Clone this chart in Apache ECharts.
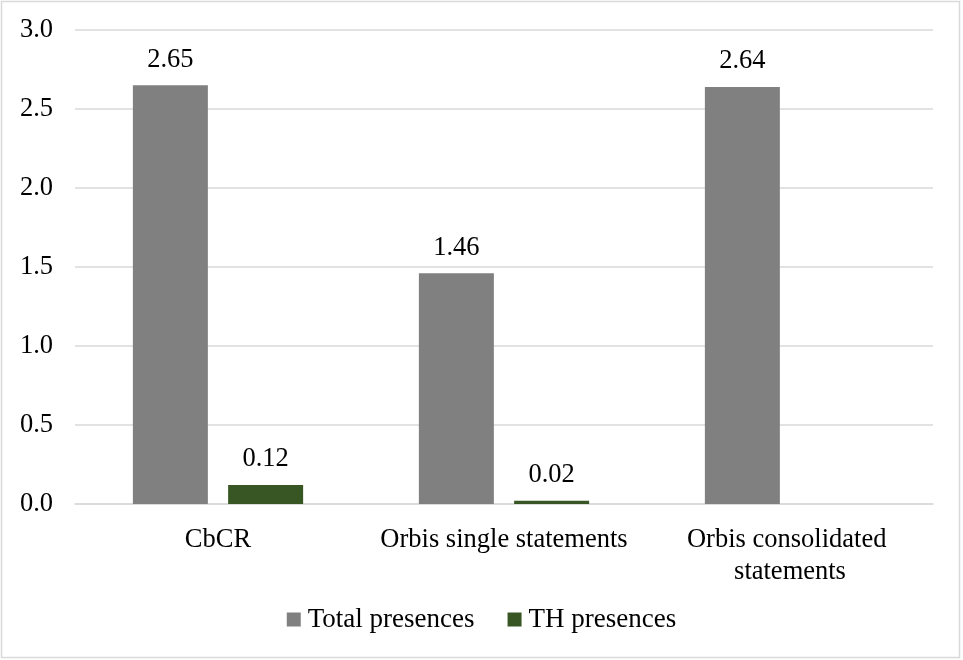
<!DOCTYPE html>
<html>
<head>
<meta charset="utf-8">
<script src="https://cdn.jsdelivr.net/npm/echarts@6/dist/echarts.min.js"></script>
<style>
html,body{margin:0;padding:0;background:#fff;}
#chart{width:963px;height:660px;}
</style>
</head>
<body>
<div id="chart"></div>
<script>
const categories = ['CbCR', 'Orbis single statements', 'Orbis consolidated statements'];
const totalPresences = [2.65, 1.46, 2.64];
const thPresences = [0.12, 0.02, 0];
const seriesNames = ['Total presences', 'TH presences'];
const yTicks = { min: 0, max: 3, interval: 0.5 };

const FONT = '"Liberation Serif", "Times New Roman", serif';
const FS = 26.5;
const chart = echarts.init(document.getElementById('chart'), null, { renderer: 'canvas' });

const labelCfg = {
  show: true,
  position: 'top',
  distance: 12,
  color: '#000',
  fontFamily: FONT,
  fontSize: FS,
  formatter: p => (p.value === 0 || p.value == null) ? '' : p.value.toFixed(2)
};

chart.setOption({
  animation: false,
  backgroundColor: '#fff',
  textStyle: { fontFamily: FONT },
  graphic: [{
    type: 'rect',
    shape: { x: 1.5, y: 1.5, width: 958, height: 656 },
    style: { fill: 'none', stroke: '#d9d9d9', lineWidth: 1.5 },
    silent: true
  }],
  grid: { left: 75, right: 30, top: 30, bottom: 156, containLabel: false },
  legend: {
    bottom: 22,
    left: 'center',
    icon: 'rect',
    itemWidth: 14,
    itemHeight: 14,
    itemGap: 33,
    textStyle: { fontFamily: FONT, fontSize: 27, color: '#000', padding: [0, 0, 0, 2] },
    data: seriesNames
  },
  xAxis: {
    type: 'category',
    data: categories,
    axisLine: { show: true, lineStyle: { color: '#d9d9d9', width: 1.5 } },
    axisTick: { show: false },
    axisLabel: {
      color: '#000',
      fontFamily: FONT,
      fontSize: FS,
      margin: 20,
      width: 270,
      overflow: 'break',
      lineHeight: 32,
      interval: 0
    }
  },
  yAxis: {
    type: 'value',
    min: yTicks.min,
    max: yTicks.max,
    interval: yTicks.interval,
    axisLine: { show: false },
    axisTick: { show: false },
    splitLine: { lineStyle: { color: '#d9d9d9', width: 1.5 } },
    axisLabel: {
      color: '#000',
      fontFamily: FONT,
      fontSize: FS,
      margin: 22,
      formatter: v => v.toFixed(1)
    }
  },
  series: [
    {
      name: seriesNames[0],
      type: 'bar',
      data: totalPresences,
      barWidth: 75,
      barGap: '27%',
      itemStyle: { color: '#808080' },
      label: labelCfg
    },
    {
      name: seriesNames[1],
      type: 'bar',
      data: thPresences,
      barWidth: 75,
      itemStyle: { color: '#375623' },
      label: labelCfg
    }
  ]
});
</script>
</body>
</html>
